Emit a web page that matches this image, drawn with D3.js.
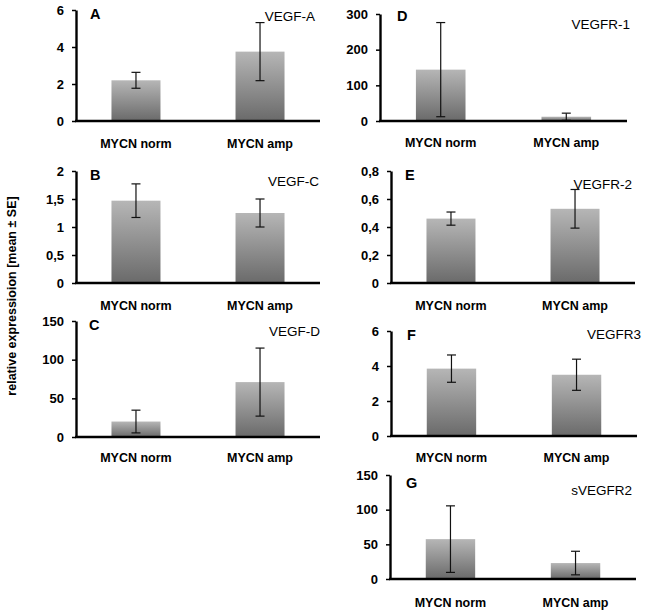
<!DOCTYPE html>
<html>
<head>
<meta charset="utf-8">
<script src="https://cdn.jsdelivr.net/npm/d3@7"></script>
<style>
  body { margin: 0; background: #fff; }
  svg { display: block; }
  text { font-family: Arial, "Liberation Sans", sans-serif; }
</style>
</head>
<body>
<svg id="chart" width="645" height="613"></svg>
<script>
// ---- data ----
const categories = ["MYCN norm", "MYCN amp"];
const panelLetters = ["A", "D", "B", "E", "C", "F", "G"];
const genes = ["VEGF-A", "VEGFR-1", "VEGF-C", "VEGFR-2", "VEGF-D", "VEGFR3", "sVEGFR2"];
const means = [[2.2, 3.75], [144, 12], [1.47, 1.25], [0.46, 0.53], [20, 71], [3.85, 3.5], [57.5, 23]];
const errors = [[0.43, 1.57], [132, 10], [0.30, 0.25], [0.047, 0.138], [14.7, 44], [0.78, 0.89], [48, 17]];
const yMaxes = [6, 300, 2, 0.8, 150, 6, 150];
const tickValues = [[0, 2, 4, 6], [0, 100, 200, 300], [0, 0.5, 1, 1.5, 2], [0, 0.2, 0.4, 0.6, 0.8], [0, 50, 100, 150], [0, 2, 4, 6], [0, 50, 100, 150]];
const tickLabels = [["0", "2", "4", "6"], ["0", "100", "200", "300"], ["0", "0,5", "1", "1,5", "2"], ["0", "0,2", "0,4", "0,6", "0,8"], ["0", "50", "100", "150"], ["0", "2", "4", "6"], ["0", "50", "100", "150"]];
const yAxisTitle = "relative expressioion [mean ± SE]";

// ---- layout (positions only) ----
const layout = [
  { x0: 76,  x1: 320, top: 10,  bottom: 121, letter: [90, 19],  gene: [315, 21],  cat: 148 },
  { x0: 380, x1: 627, top: 14,  bottom: 121, letter: [397, 21], gene: [630, 29],  cat: 147 },
  { x0: 76,  x1: 320, top: 171, bottom: 283, letter: [90, 180], gene: [319, 186], cat: 310 },
  { x0: 391, x1: 635, top: 171, bottom: 283, letter: [405, 180], gene: [632, 189], cat: 310 },
  { x0: 76,  x1: 320, top: 321, bottom: 437, letter: [89, 330], gene: [320, 336], cat: 462 },
  { x0: 391, x1: 637, top: 331, bottom: 436, letter: [407, 340], gene: [641, 339], cat: 462 },
  { x0: 390, x1: 636, top: 475, bottom: 579, letter: [406, 488], gene: [632, 495], cat: 607 }
];

const svg = d3.select("#chart");
const defs = svg.append("defs");
const grad = defs.append("linearGradient").attr("id", "barGrad")
  .attr("x1", 0).attr("y1", 0).attr("x2", 0).attr("y2", 1);
grad.append("stop").attr("offset", "0%").attr("stop-color", "#b6b6b6");
grad.append("stop").attr("offset", "100%").attr("stop-color", "#6a6a6a");

layout.forEach((L, i) => {
  const g = svg.append("g");
  const x = d3.scaleBand().domain(categories).range([L.x0, L.x1])
    .paddingInner(0.605).paddingOuter(0.286);
  const y = d3.scaleLinear().domain([0, yMaxes[i]]).range([L.bottom, L.top]);

  const rows = categories.map((c, j) => ({ c, m: means[i][j], e: errors[i][j] }));

  // bars
  g.selectAll("rect.bar").data(rows).join("rect")
    .attr("class", "bar")
    .attr("x", d => x(d.c))
    .attr("width", x.bandwidth())
    .attr("y", d => y(d.m))
    .attr("height", d => y(0) - y(d.m))
    .attr("fill", "url(#barGrad)");

  // error bars
  const cap = 4.5;
  const eb = g.selectAll("g.err").data(rows).join("g").attr("class", "err")
    .attr("stroke", "#111").attr("stroke-width", 1.2);
  eb.append("line")
    .attr("x1", d => x(d.c) + x.bandwidth() / 2).attr("x2", d => x(d.c) + x.bandwidth() / 2)
    .attr("y1", d => y(d.m + d.e)).attr("y2", d => y(Math.max(0, d.m - d.e)));
  eb.append("line")
    .attr("x1", d => x(d.c) + x.bandwidth() / 2 - cap).attr("x2", d => x(d.c) + x.bandwidth() / 2 + cap)
    .attr("y1", d => y(d.m + d.e)).attr("y2", d => y(d.m + d.e));
  eb.append("line")
    .attr("x1", d => x(d.c) + x.bandwidth() / 2 - cap).attr("x2", d => x(d.c) + x.bandwidth() / 2 + cap)
    .attr("y1", d => y(Math.max(0, d.m - d.e))).attr("y2", d => y(Math.max(0, d.m - d.e)));

  // y axis
  const yAxis = d3.axisLeft(y).tickValues(tickValues[i])
    .tickFormat((d, k) => tickLabels[i][k]).tickSize(4).tickPadding(8).tickSizeOuter(0);
  const ya = g.append("g").attr("transform", `translate(${L.x0},0)`).call(yAxis);
  ya.select(".domain").attr("stroke", "#000").attr("stroke-width", 2.4);
  ya.selectAll(".tick line").attr("stroke", "#000").attr("stroke-width", 1.5);
  ya.selectAll(".tick text").attr("fill", "#000").style("font-size", "13px").style("font-weight", "bold")
    .style("font-family", "Arial, 'Liberation Sans', sans-serif");

  // x axis
  const xAxis = d3.axisBottom(x).tickSize(0).tickSizeOuter(0).tickFormat(() => "");
  const xa = g.append("g").attr("transform", `translate(0,${L.bottom})`).call(xAxis);
  xa.select(".domain").attr("stroke", "#000").attr("stroke-width", 2.4)
    .attr("d", `M${L.x0 - 1},0H${L.x1}`);

  // category labels
  g.selectAll("text.cat").data(categories).join("text")
    .attr("class", "cat")
    .attr("x", d => x(d) + x.bandwidth() / 2)
    .attr("y", L.cat)
    .attr("text-anchor", "middle")
    .style("font-size", "12.5px").style("font-weight", "bold")
    .text(d => d);

  // panel letter
  g.append("text").attr("x", L.letter[0]).attr("y", L.letter[1])
    .style("font-size", "14.5px").style("font-weight", "bold").text(panelLetters[i]);

  // gene name
  g.append("text").attr("x", L.gene[0]).attr("y", L.gene[1]).attr("text-anchor", "end")
    .style("font-size", "13.5px").text(genes[i]);
});

// shared y axis title
svg.append("text")
  .attr("transform", "translate(16,296) rotate(-90)")
  .attr("text-anchor", "middle")
  .style("font-size", "12.5px").style("font-weight", "bold")
  .text(yAxisTitle);
</script>
</body>
</html>
